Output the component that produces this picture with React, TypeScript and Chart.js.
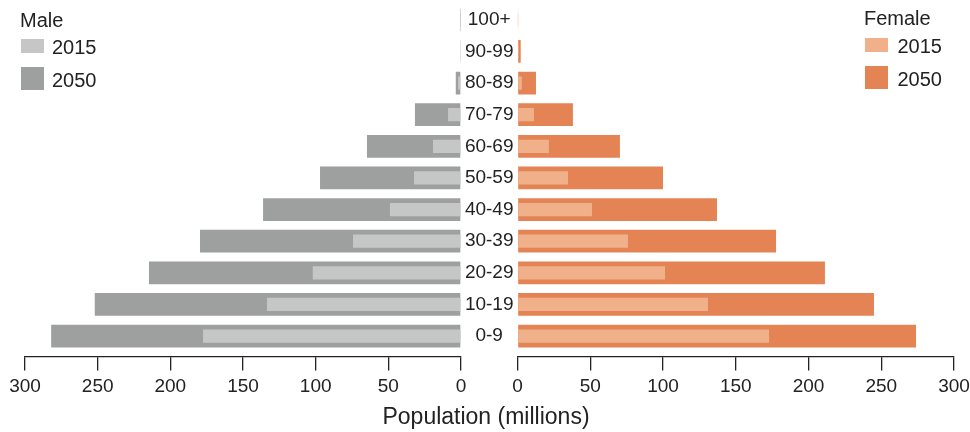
import React, { useEffect, useRef } from 'react';
import { Chart, registerables } from 'chart.js';

Chart.register(...registerables);

// Age groups, bottom (youngest) to top (oldest)
const ageGroups = ['0-9', '10-19', '20-29', '30-39', '40-49', '50-59', '60-69', '70-79', '80-89', '90-99', '100+'];

// Population in millions
const male2015 = [177.5, 133.5, 102, 74.3, 48.9, 32.3, 19.3, 8.9, 2, 0.3, 0.05];
const male2050 = [282, 252, 214.7, 179.6, 136.2, 97, 64.7, 31.7, 3.6, 0.6, 0.15];
const female2015 = [172.9, 130.9, 101.4, 75.9, 51.2, 34.7, 21.6, 11.3, 3, 0.8, 0.1];
const female2050 = [273.9, 245, 211.3, 177.7, 137.1, 100, 70.4, 38.1, 12.7, 2.2, 0.4];

const xTicks = [0, 50, 100, 150, 200, 250, 300];
const years = ['2015', '2050'];
const axisTitle = 'Population (millions)';
const maleTitle = 'Male';
const femaleTitle = 'Female';

const FONT = '"Liberation Sans", Arial, Helvetica, sans-serif';
const TEXT = '#222222';
const MALE_COLORS = ['#c5c6c5', '#9ea0a0'];
const FEMALE_COLORS = ['#efb08a', '#e48454'];

const toPoints = (vals: number[]) => vals.map((v, i) => ({ x: v, y: i }));

const intTicks = (s: any) => {
  s.ticks = ageGroups.map((_, i) => ({ value: i }));
};

function makeX(reverse: boolean) {
  return {
    type: 'linear' as const,
    min: 0,
    max: 300,
    reverse,
    offset: false,
    afterBuildTicks: (s: any) => {
      s.ticks = xTicks.map((v) => ({ value: v }));
    },
    grid: {
      display: true,
      drawOnChartArea: false,
      drawTicks: true,
      tickLength: 14,
      color: TEXT,
      lineWidth: 1.3,
    },
    border: { display: true, color: TEXT, width: 1.3 },
    ticks: {
      color: TEXT,
      font: { family: FONT, size: 19 },
      padding: 5,
      maxRotation: 0,
      autoSkip: false,
    },
    afterFit: (s: any) => {
      s.height = 75.5;
      s.paddingLeft = 0;
      s.paddingRight = 0;
    },
  };
}

function makeDatasets(v2015: number[], v2050: number[], colors: string[]) {
  return [
    {
      label: years[0],
      data: toPoints(v2015),
      backgroundColor: colors[0],
      borderWidth: 0,
      grouped: false,
      order: 0,
      categoryPercentage: 1,
      barPercentage: 0.42,
    },
    {
      label: years[1],
      data: toPoints(v2050),
      backgroundColor: colors[1],
      borderWidth: 0,
      grouped: false,
      order: 1,
      categoryPercentage: 1,
      barPercentage: 0.72,
    },
  ];
}

export default function App() {
  const leftRef = useRef<HTMLCanvasElement>(null);
  const rightRef = useRef<HTMLCanvasElement>(null);

  useEffect(() => {
    const common = {
      responsive: false,
      animation: false as const,
      devicePixelRatio: 1,
      indexAxis: 'y' as const,
      plugins: { legend: { display: false }, tooltip: { enabled: false } },
    };

    const left = new Chart(leftRef.current!, {
      type: 'bar',
      data: { datasets: makeDatasets(male2015, male2050, MALE_COLORS) as any },
      options: {
        ...common,
        layout: { padding: { left: 25, right: 9, top: 4, bottom: 0 } },
        scales: {
          x: makeX(true) as any,
          y: {
            type: 'linear',
            display: false,
            offset: false,
            bounds: 'data',
            min: -0.645,
            max: 10.5,
            afterBuildTicks: intTicks,
            grid: { offset: false },
          } as any,
        },
      } as any,
    });

    const right = new Chart(rightRef.current!, {
      type: 'bar',
      data: { datasets: makeDatasets(female2015, female2050, FEMALE_COLORS) as any },
      options: {
        ...common,
        layout: { padding: { left: 0, right: 16, top: 4, bottom: 0 } },
        scales: {
          x: makeX(false) as any,
          y: {
            type: 'linear',
            position: 'left',
            offset: false,
            bounds: 'data',
            min: -0.645,
            max: 10.5,
            afterBuildTicks: intTicks,
            grid: { display: false, drawTicks: false, offset: false },
            border: { display: false },
            ticks: {
              autoSkip: false,
              crossAlign: 'center',
              padding: 4,
              color: TEXT,
              font: { family: FONT, size: 19 },
              callback: (v: any) => ageGroups[v as number] ?? '',
            },
            afterFit: (s: any) => {
              s.width = 56.5;
              s.paddingTop = 0;
              s.paddingBottom = 0;
            },
          } as any,
        },
      } as any,
    });

    return () => {
      left.destroy();
      right.destroy();
    };
  }, []);

  const textStyle: React.CSSProperties = {
    position: 'absolute',
    fontFamily: FONT,
    fontSize: 20,
    lineHeight: '20px',
    color: TEXT,
    whiteSpace: 'nowrap',
  };
  const swatchH = [14, 23.3];
  const swatchTop = [39, 66.7];
  const textTop = [37.4, 69.7];

  return (
    <div
      style={{
        position: 'fixed',
        left: 0,
        top: 0,
        width: 970,
        height: 432,
        background: '#ffffff',
        overflow: 'hidden',
      }}
    >
      <canvas
        ref={leftRef}
        width={470}
        height={432}
        style={{ position: 'absolute', left: 0, top: 0, width: 470, height: 432 }}
      />
      <canvas
        ref={rightRef}
        width={509}
        height={432}
        style={{ position: 'absolute', left: 461, top: 0, width: 509, height: 432 }}
      />

      {/* Male legend */}
      <div style={{ ...textStyle, left: 20, top: 10 }}>{maleTitle}</div>
      {years.map((y, i) => (
        <React.Fragment key={'m' + y}>
          <div
            style={{
              position: 'absolute',
              left: 21,
              top: swatchTop[i],
              width: 23,
              height: swatchH[i],
              background: MALE_COLORS[i],
            }}
          />
          <div style={{ ...textStyle, left: 52, top: textTop[i] }}>{y}</div>
        </React.Fragment>
      ))}

      {/* Female legend */}
      <div style={{ ...textStyle, left: 864, top: 8.4 }}>{femaleTitle}</div>
      {years.map((y, i) => (
        <React.Fragment key={'f' + y}>
          <div
            style={{
              position: 'absolute',
              left: 865,
              top: swatchTop[i] - 1,
              width: 23.3,
              height: swatchH[i],
              background: FEMALE_COLORS[i],
            }}
          />
          <div style={{ ...textStyle, left: 897.5, top: textTop[i] - 1 }}>{y}</div>
        </React.Fragment>
      ))}

      {/* Axis title */}
      <div
        style={{
          ...textStyle,
          fontSize: 23,
          lineHeight: '23px',
          left: 236,
          width: 500,
          textAlign: 'center',
          top: 405,
        }}
      >
        {axisTitle}
      </div>
    </div>
  );
}
